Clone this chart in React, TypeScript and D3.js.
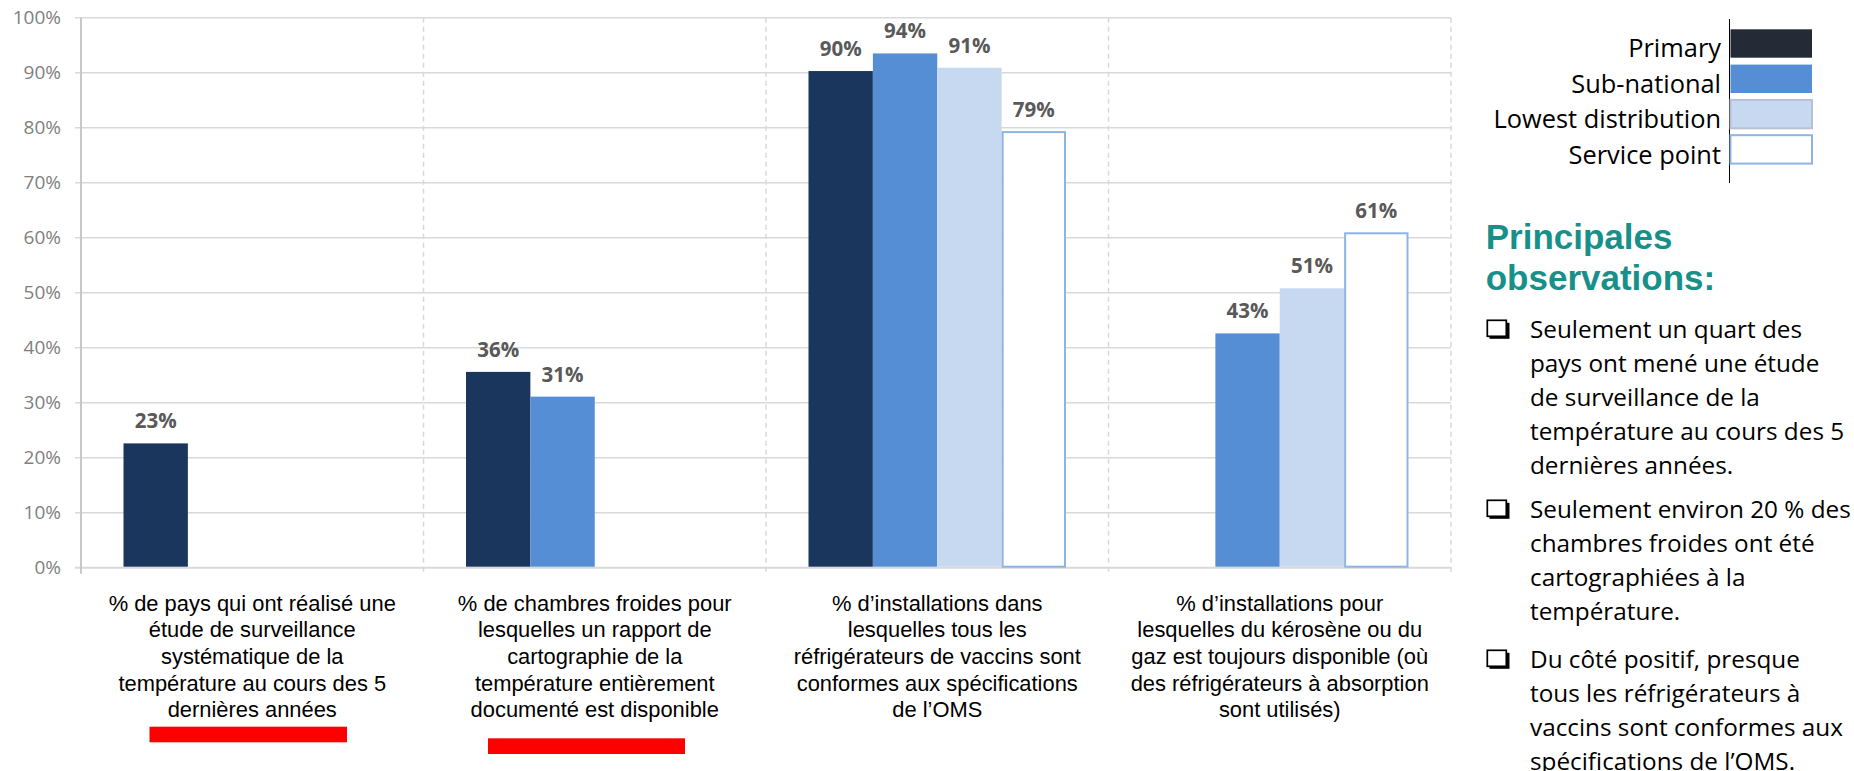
import React from "react";
import * as d3 from "d3";

const W = 1854;
const H = 771;

const categories = ["c1", "c2", "c3", "c4"];
const categoryLabels: string[][] = [
  ["% de pays qui ont réalisé une", "étude de surveillance", "systématique de la", "température au cours des 5", "dernières années"],
  ["% de chambres froides pour", "lesquelles un rapport de", "cartographie de la", "température entièrement", "documenté est disponible"],
  ["% d’installations dans", "lesquelles tous les", "réfrigérateurs de vaccins sont", "conformes aux spécifications", "de l’OMS"],
  ["% d’installations pour", "lesquelles du kérosène ou du", "gaz est toujours disponible (où", "des réfrigérateurs à absorption", "sont utilisés)"],
];
const series = ["Primary", "Sub-national", "Lowest distribution", "Service point"];
const primary: (number | null)[] = [0.226, 0.356, 0.903, null];
const subNational: (number | null)[] = [null, 0.311, 0.935, 0.426];
const lowestDistribution: (number | null)[] = [null, null, 0.909, 0.508];
const servicePoint: (number | null)[] = [null, null, 0.792, 0.608];
const yTicks = [0, 0.1, 0.2, 0.3, 0.4, 0.5, 0.6, 0.7, 0.8, 0.9, 1.0];

const titleLines = ["Principales", "observations:"];
const bullets: string[][] = [
  ["Seulement un quart des", "pays ont mené une étude", "de surveillance de la", "température au cours des 5", "dernières années."],
  ["Seulement environ 20 % des", "chambres froides ont été", "cartographiées à la", "température."],
  ["Du côté positif, presque", "tous les réfrigérateurs à", "vaccins sont conformes aux", "spécifications de l’OMS."],
];

const seriesValues = [primary, subNational, lowestDistribution, servicePoint];
const barFill = ["#1b365d", "#558ed5", "#c6d9f1", "#ffffff"];
const barStroke = ["none", "none", "none", "#8eb4e3"];
const legendFill = ["#252b36", "#558ed5", "#c6d9f1", "#ffffff"];
const legendStroke = ["none", "none", "#b4c2d4", "#8eb4e3"];

const plotLeft = 81;
const plotRight = 1451;
const plotTop = 17.7;
const plotBottom = 567.7;

export default function App() {
  const y = d3.scaleLinear().domain([0, 1]).range([plotBottom, plotTop]);
  const x0 = d3.scaleBand<string>().domain(categories).range([plotLeft, plotRight]).padding(0);
  const bw = x0.bandwidth();
  const x1 = d3.scaleBand<string>().domain(series).range([42.5, bw - 42.5]).padding(0);
  const fmt = d3.format(".0%");
  const gridColor = "#d9d9d9";

  const bars: React.ReactNode[] = [];
  const labels: React.ReactNode[] = [];
  categories.forEach((c, ci) => {
    series.forEach((s, si) => {
      const v = seriesValues[si][ci];
      if (v == null) return;
      const bx = (x0(c) ?? 0) + (x1(s) ?? 0);
      const w = x1.bandwidth();
      const stroked = barStroke[si] !== "none";
      bars.push(
        <rect
          key={`b-${ci}-${si}`}
          x={stroked ? bx + 1 : bx}
          y={y(v)}
          width={stroked ? w - 2 : w}
          height={y(0) - y(v) - 1}
          fill={barFill[si]}
          stroke={barStroke[si]}
          strokeWidth={2}
        />
      );
      labels.push(
        <text
          key={`l-${ci}-${si}`}
          x={bx + w / 2}
          y={y(v) - 15}
          textAnchor="middle"
          fontFamily="'Open Sans', sans-serif"
          fontWeight={700}
          fontSize={20.5}
          fill="#595959"
        >
          {fmt(v)}
        </text>
      );
    });
  });

  const separators = [...categories.map((c) => x0(c) ?? 0), plotRight];

  return (
    <svg width={W} height={H} style={{ position: "absolute", left: 0, top: 0, background: "#fff" }}>
      {yTicks.map((t) => (
        <line
          key={`g-${t}`}
          x1={plotLeft - 6}
          x2={plotRight}
          y1={y(t)}
          y2={y(t)}
          stroke={gridColor}
          strokeWidth={t === 0 ? 2 : 1.5}
        />
      ))}
      {separators.slice(1).map((sx, i) => (
        <line
          key={`s-${i}`}
          x1={sx}
          x2={sx}
          y1={plotTop}
          y2={plotBottom + 6}
          stroke={gridColor}
          strokeWidth={1.5}
          strokeDasharray="5,4"
        />
      ))}
      <line x1={plotLeft} x2={plotLeft} y1={plotTop} y2={plotBottom + 6} stroke="#c8c8c8" strokeWidth={2} />
      {yTicks.map((t) => (
        <text
          key={`t-${t}`}
          x={61}
          y={y(t)}
          dy="0.35em"
          textAnchor="end"
          fontFamily="'Open Sans', sans-serif"
          fontSize={19}
          fill="#808080"
        >
          {fmt(t)}
        </text>
      ))}
      {bars}
      {labels}
      {categories.map((c, ci) =>
        categoryLabels[ci].map((line, li) => (
          <text
            key={`c-${ci}-${li}`}
            x={(x0(c) ?? 0) + bw / 2}
            y={610.7 + li * 26.65}
            textAnchor="middle"
            fontFamily="'Liberation Sans', Arial, sans-serif"
            fontSize={21.9}
            fill="#000"
          >
            {line}
          </text>
        ))
      )}
      <rect x={149.5} y={726.7} width={197.5} height={15.6} fill="#ff0000" />
      <rect x={488} y={738.3} width={197} height={15.7} fill="#ff0000" />

      <line x1={1729.5} x2={1729.5} y1={19} y2={183} stroke="#000" strokeWidth={1} />
      {series.map((s, i) => (
        <g key={`lg-${i}`}>
          <rect
            x={1730.5}
            y={29.3 + i * 35.3}
            width={81.5}
            height={28.4}
            fill={legendFill[i]}
            stroke={legendStroke[i]}
            strokeWidth={legendStroke[i] === "none" ? 0 : 2}
          />
          <text
            x={1721}
            y={56.7 + i * 35.8}
            textAnchor="end"
            fontFamily="'Open Sans', sans-serif"
            fontSize={25.4}
            fill="#000"
          >
            {s}
          </text>
        </g>
      ))}

      {titleLines.map((t, i) => (
        <text
          key={`ti-${i}`}
          x={1485.7}
          y={249.3 + i * 40.7}
          fontFamily="'Liberation Sans', Arial, sans-serif"
          fontWeight={700}
          fontSize={35}
          fill="#17908a"
        >
          {t}
        </text>
      ))}
      {bullets.map((lines, bi) => {
        const starts = [338.3, 518.3, 668.3];
        const base = starts[bi];
        return (
          <g key={`bu-${bi}`}>
            <rect x={1489.5} y={base - 15.5} width={20} height={16} fill="#000" />
            <rect x={1487.3} y={base - 18} width={19} height={16} fill="#fff" stroke="#000" strokeWidth={1.7} />
            {lines.map((ln, li) => (
              <text
                key={`bl-${bi}-${li}`}
                x={1530}
                y={base + li * 34}
                fontFamily="'Open Sans', sans-serif"
                fontSize={24.3}
                fill="#000"
              >
                {ln}
              </text>
            ))}
          </g>
        );
      })}
    </svg>
  );
}
